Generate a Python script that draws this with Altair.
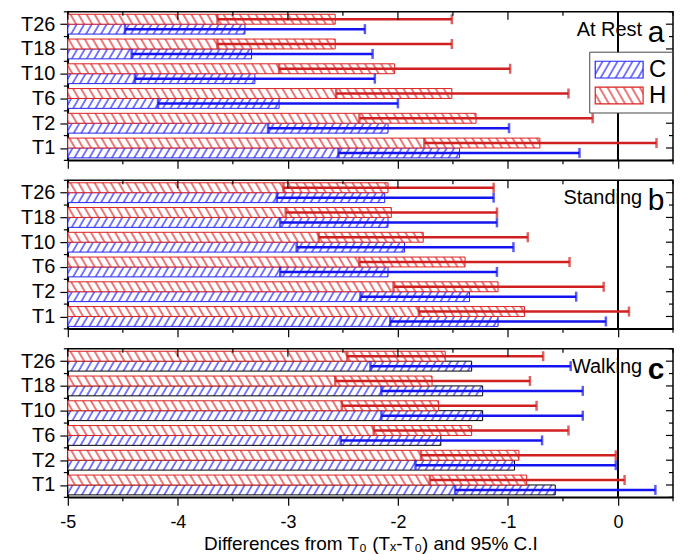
import json
import altair as alt
import pandas as pd

# ---------------- data ----------------
categories = ["T1", "T2", "T6", "T10", "T18", "T26"]
groups = ["C", "H"]
panel_names = ["At Rest", "Standing", "Walking"]
panel_letters = ["a", "b", "c"]

rest_c_mean = [-1.44, -2.09, -3.08, -3.30, -3.33, -3.39]
rest_c_lo = [-2.54, -3.18, -4.18, -4.39, -4.42, -4.48]
rest_c_hi = [-0.35, -0.99, -2.00, -2.21, -2.23, -2.30]
rest_h_mean = [-0.71, -1.29, -1.51, -2.03, -2.57, -2.57]
rest_h_lo = [-1.76, -2.35, -2.56, -3.08, -3.64, -3.64]
rest_h_hi = [0.35, -0.23, -0.45, -0.98, -1.51, -1.51]

stand_c_mean = [-1.09, -1.35, -2.09, -1.94, -2.09, -2.12]
stand_c_lo = [-2.07, -2.34, -3.07, -2.92, -3.07, -3.10]
stand_c_hi = [-0.11, -0.38, -1.10, -0.95, -1.10, -1.13]
stand_h_mean = [-0.85, -1.09, -1.39, -1.77, -2.06, -2.09]
stand_h_lo = [-1.81, -2.04, -2.35, -2.72, -3.02, -3.04]
stand_h_hi = [0.10, -0.13, -0.44, -0.82, -1.10, -1.13]

walk_c_mean = [-0.57, -0.94, -1.61, -1.23, -1.23, -1.33]
walk_c_lo = [-1.48, -1.84, -2.52, -2.15, -2.15, -2.25]
walk_c_hi = [0.34, -0.02, -0.69, -0.32, -0.32, -0.43]
walk_h_mean = [-0.83, -0.90, -1.33, -1.63, -1.69, -1.57]
walk_h_lo = [-1.71, -1.79, -2.22, -2.51, -2.57, -2.46]
walk_h_hi = [0.06, -0.02, -0.45, -0.74, -0.80, -0.68]

x_major = [-5, -4, -3, -2, -1, 0]
x_minor = [-4.5, -3.5, -2.5, -1.5, -0.5, 0.5]
y_major = [0, 1, 2, 3, 4, 5]
y_minor = [-0.5, 0.5, 1.5, 2.5, 3.5, 4.5, 5.5]
zero_line = [0]

x_title = "Differences from T\u2080 (T\u2093-T\u2080) and 95% C.I"

# ---------------- style ----------------
FONT = "Liberation Sans"
W, H = 607, 149
BLUE_LINE = "#2424ff"
RED_LINE = "#dd2020"
BLUE_ERR = "#1414f0"
RED_ERR = "#d02020"
FILLS = ["url(#hatchC) white", "url(#hatchH) white"]

DEFS = (
    '<svg width="0" height="0" style="position:absolute;width:0;height:0" aria-hidden="true"><defs>'
    '<pattern id="hatchC" patternUnits="userSpaceOnUse" width="6.5" height="6.5" patternTransform="rotate(30)">'
    '<rect x="0" y="0" width="6.5" height="6.5" fill="#ffffff"/>'
    '<line x1="1" y1="-1" x2="1" y2="8" stroke="' + BLUE_LINE + '" stroke-width="1.2"/></pattern>'
    '<pattern id="hatchH" patternUnits="userSpaceOnUse" width="7" height="7" patternTransform="rotate(-30)">'
    '<rect x="0" y="0" width="7" height="7" fill="#ffffff"/>'
    '<line x1="1" y1="-1" x2="1" y2="8" stroke="' + RED_LINE + '" stroke-width="1.2"/></pattern>'
    '</defs></svg>'
)

try:
    import altair.utils.html as _ah

    class _DefsTemplate:
        def __init__(self, inner):
            self.inner = inner

        def render(self, *args, **kwargs):
            out = self.inner.render(*args, **kwargs)
            return out.replace("<body>", "<body>\n" + DEFS, 1)

    for _k in list(_ah.TEMPLATES):
        _ah.TEMPLATES[_k] = _DefsTemplate(_ah.TEMPLATES[_k])
except Exception:
    pass


def panel_df(c_mean, c_lo, c_hi, h_mean, h_lo, h_hi):
    rows = []
    for i, cat in enumerate(categories):
        rows.append(dict(cat=cat, idx=i, grp="C", mean=c_mean[i], lo=c_lo[i], hi=c_hi[i]))
        rows.append(dict(cat=cat, idx=i, grp="H", mean=h_mean[i], lo=h_lo[i], hi=h_hi[i]))
    return pd.DataFrame(rows)


xs = alt.Scale(domain=[-5, 0.5], nice=False, zero=False)
ys = alt.Scale(domain=[-0.5, 5.5], nice=False, zero=False)
y_label_expr = json.dumps(categories) + "[round(datum.value)]"
x_label_expr = "(datum.value < 0 ? '-' : '') + abs(datum.value)"


def make_panel(df, k, c_stroke, show_legend, show_x):
    xaxis_kw = dict(
        values=x_major, grid=False, tickSize=8, tickColor="black", tickWidth=1.2,
        domainColor="black", domainWidth=1.5, labels=show_x, labelExpr=x_label_expr,
        labelFlush=False, labelFontSize=18, labelColor="black", labelPadding=8,
        labelFont=FONT,
    )
    if show_x:
        xaxis_kw.update(title=x_title, titleFontSize=19, titleFontWeight="normal",
                        titleColor="black", titleFont=FONT, titlePadding=3)
    else:
        xaxis_kw.update(title=None)
    xaxis = alt.Axis(**xaxis_kw)
    yaxis = alt.Axis(
        values=y_major, grid=False, tickSize=8, tickColor="black", tickWidth=1.2,
        domainColor="black", domainWidth=1.5, labelExpr=y_label_expr, labelFontSize=20,
        labelColor="black", labelPadding=5, labelFont=FONT, title=None, minExtent=59,
    )

    def X(f):
        return alt.X(f, scale=xs, axis=xaxis)

    def Y(f):
        return alt.Y(f, scale=ys, axis=yaxis)

    base = alt.Chart(df).transform_calculate(
        y0="datum.grp === 'H' ? datum.idx : datum.idx - 0.4"
    ).transform_calculate(y1="datum.y0 + 0.4", yc="datum.y0 + 0.2")

    if show_legend:
        leg = alt.Legend(
            title=None, orient="none", legendX=523, legendY=40, direction="vertical",
            symbolType="M-2,-0.7H2V0.7H-2Z", symbolSize=576, symbolStrokeWidth=1.2,
            symbolOffset=12, labelFontSize=24, labelFont=FONT, labelColor="black",
            labelOffset=17, strokeColor="#444444", fillColor="white", padding=5,
            rowPadding=1, symbolOpacity=1,
        )
    else:
        leg = None

    bars = base.mark_bar(strokeWidth=1, opacity=1).encode(
        x=X("mean:Q"),
        x2=alt.datum(-5),
        y=Y("y0:Q"),
        y2="y1:Q",
        fill=alt.Fill("grp:N", scale=alt.Scale(domain=groups, range=FILLS), legend=leg),
        stroke=alt.Stroke("grp:N", scale=alt.Scale(domain=groups, range=[c_stroke, RED_LINE]), legend=leg),
    )
    zero = alt.Chart(pd.DataFrame({"z": zero_line})).mark_rule(color="black", strokeWidth=2).encode(
        x=X("z:Q")
    )
    err_color = alt.Color("grp:N", scale=alt.Scale(domain=groups, range=[BLUE_ERR, RED_ERR]), legend=None)
    err = base.mark_rule(strokeWidth=2.5).encode(
        x=X("lo:Q"), x2="hi:Q", y=Y("yc:Q"), color=err_color,
    )
    caps = base.transform_fold(["lo", "hi"], as_=["end", "xv"]).mark_tick(
        orient="vertical", size=10, thickness=2.5
    ).encode(x=X("xv:Q"), y=Y("yc:Q"), color=err_color)

    def hticks(vals, x_from, x_to):
        return alt.Chart(pd.DataFrame({"t": vals})).mark_rule(color="black", strokeWidth=1.2).encode(
            y=Y("t:Q"), x=alt.value(x_from), x2=alt.value(x_to)
        )

    def vticks(vals, y_from, y_to):
        return alt.Chart(pd.DataFrame({"t": vals})).mark_rule(color="black", strokeWidth=1.2).encode(
            x=X("t:Q"), y=alt.value(y_from), y2=alt.value(y_to)
        )

    name = alt.Chart(pd.DataFrame({"t": [panel_names[k]]})).mark_text(
        align="right", baseline="alphabetic", fontSize=20, font=FONT, color="black"
    ).encode(text="t:N", x=alt.value(576), y=alt.value(24))
    letter = alt.Chart(pd.DataFrame({"t": [panel_letters[k]]})).mark_text(
        align="center", baseline="alphabetic", fontSize=30, font=FONT, color="black",
        fontWeight=("bold" if k == 2 else "normal"),
    ).encode(text="t:N", x=alt.value(590), y=alt.value(30))

    return alt.layer(
        bars, zero, err, caps,
        hticks(y_major, W, W - 7), hticks(y_minor, W, W - 4), hticks(y_minor, 0, -4),
        vticks(x_major, 0, 8), vticks(x_minor, 0, 4), vticks(x_minor, H, H + 4),
        name, letter,
    ).properties(width=W, height=H)


pa = make_panel(panel_df(rest_c_mean, rest_c_lo, rest_c_hi, rest_h_mean, rest_h_lo, rest_h_hi),
                0, BLUE_LINE, True, False)
pb = make_panel(panel_df(stand_c_mean, stand_c_lo, stand_c_hi, stand_h_mean, stand_h_lo, stand_h_hi),
                1, BLUE_LINE, False, False)
pc = make_panel(panel_df(walk_c_mean, walk_c_lo, walk_c_hi, walk_h_mean, walk_h_lo, walk_h_hi),
                2, "black", False, True)

chart = alt.vconcat(pa, pb, pc, spacing=8).resolve_scale(
    fill="independent", stroke="independent"
).properties(
    padding={"left": 0, "top": 1, "right": 0, "bottom": 0}
).configure(font=FONT).configure_view(stroke="black", strokeWidth=1.5)

chart.save("out.html", embed_options={"renderer": "svg", "actions": False})
